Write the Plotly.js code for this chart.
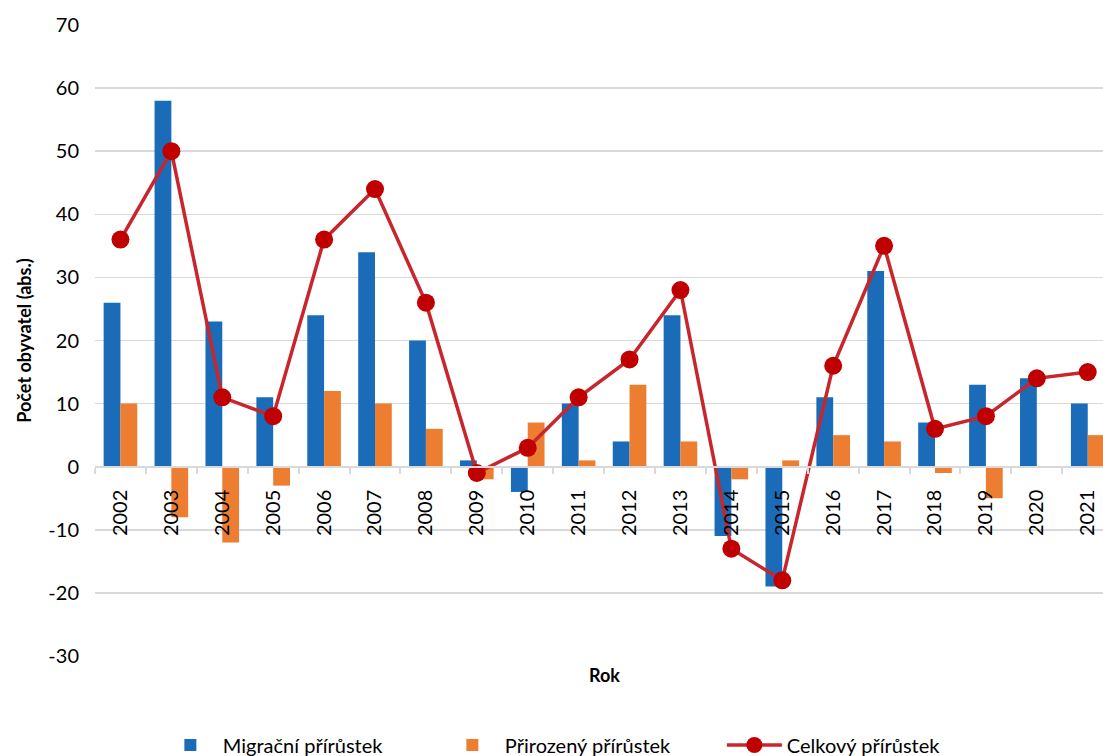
<!DOCTYPE html>
<html>
<head>
<meta charset="utf-8">
<script src="https://cdn.plot.ly/plotly-3.0.1.min.js"></script>
<style>html,body{margin:0;padding:0;background:#fff}#chart{width:1103px;height:756px}</style>
</head>
<body>
<div id="chart"></div>
<script>
const years = ["2002","2003","2004","2005","2006","2007","2008","2009","2010","2011","2012","2013","2014","2015","2016","2017","2018","2019","2020","2021"];
const migracni = [26,58,23,11,24,34,20,1,-4,10,4,24,-11,-19,11,31,7,13,14,10];
const prirozeny = [10,-8,-12,-3,12,10,6,-2,7,1,13,4,-2,1,5,4,-1,-5,0,5];
const celkovy = [36,50,11,8,36,44,26,-1,3,11,17,28,-13,-18,16,35,6,8,14,15];
const yTickVals = [-30,-20,-10,0,10,20,30,40,50,60,70];
const yTickText = ["-30","-20","-10","0","10","20","30","40","50","60","70"];
const seriesNames = ["Migrační přírůstek","Přirozený přírůstek","Celkový přírůstek"];
const yTitle = "Počet obyvatel (abs.)";
const xTitle = "Rok";

const font = "Lato, 'Liberation Sans', sans-serif";
const data = [
  {type:"bar", x:years, y:migracni, name:seriesNames[0], marker:{color:"#1a6cb8"}, hoverinfo:"skip"},
  {type:"bar", x:years, y:prirozeny, name:seriesNames[1], marker:{color:"#ed7d31"}, hoverinfo:"skip"},
  {type:"scatter", mode:"lines+markers", x:years, y:celkovy, name:seriesNames[2],
   line:{color:"#c8262c", width:3.5}, marker:{color:"#c00000", size:18}, hoverinfo:"skip"}
];
const layout = {
  width:1103, height:756,
  margin:{l:95, r:0, t:25, b:100, autoexpand:false},
  paper_bgcolor:"#fff", plot_bgcolor:"#fff",
  font:{family:font, size:20, color:"#000"},
  barmode:"group", bargap:0.34, bargroupgap:0,
  showlegend:true,
  legend:{orientation:"h", x:0.482, xanchor:"center", y:-0.141, yanchor:"middle",
          font:{family:font, size:20, color:"#000"}, entrywidth:212, itemwidth:55, traceorder:"normal"},
  xaxis:{type:"category", range:[-0.5,19.3], anchor:"free", position:0.3,
         showline:true, linecolor:"#d9d9d9", linewidth:2,
         ticks:"outside", tickson:"boundaries", ticklen:6, tickcolor:"#d9d9d9", tickwidth:2,
         ticklabelstandoff:14,
         tickangle:-90, tickfont:{family:font, size:20, color:"#000"}, showgrid:false, fixedrange:true},
  yaxis:{range:[-30,70], tickmode:"array", tickvals:yTickVals, ticktext:yTickText,
         showgrid:true, gridcolor:"#d9d9d9", gridwidth:1.5,
         zeroline:false, showline:false, ticks:"", ticklabelstandoff:15,
         tickfont:{family:font, size:20, color:"#000"},
         title:{text:yTitle, font:{family:font, size:18, color:"#000", weight:"bold"}, standoff:12}},
  annotations:[{text:"<b>"+xTitle+"</b>", xref:"paper", yref:"paper", x:0.505, y:-0.030, yanchor:"middle",
                showarrow:false, font:{family:font, size:18, color:"#000"}}]
};
Plotly.newPlot("chart", data, layout, {staticPlot:true, displayModeBar:false});
</script>
</body>
</html>
